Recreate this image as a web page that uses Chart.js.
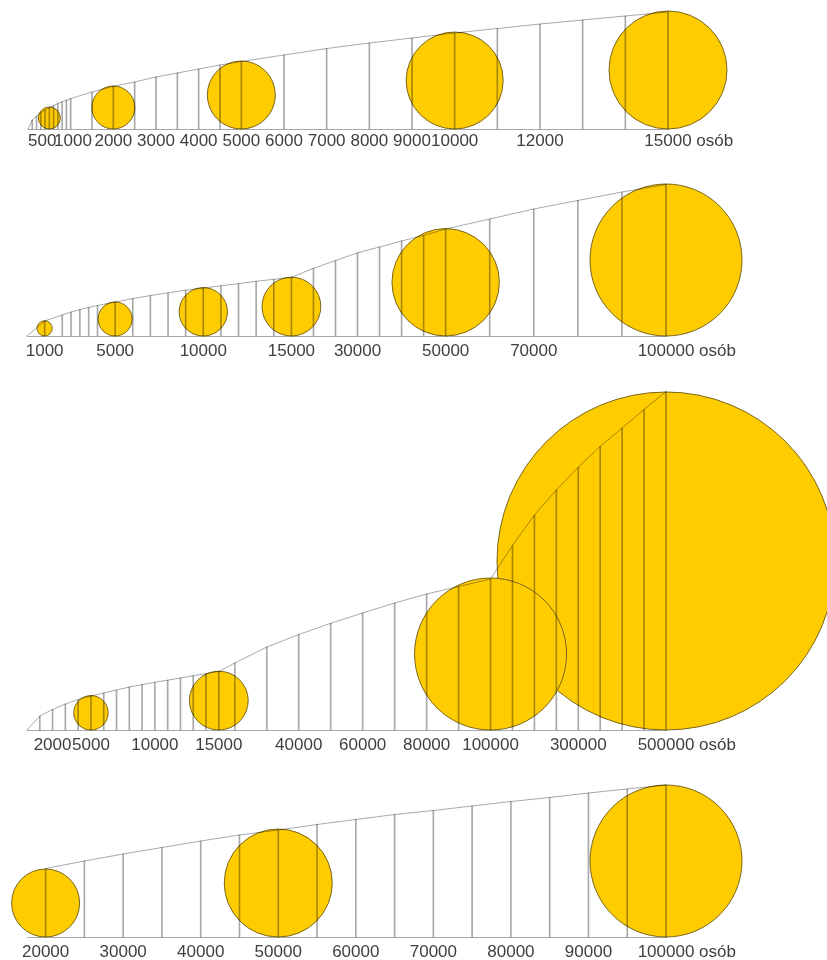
<!DOCTYPE html>
<html><head><meta charset="utf-8">
<script src="https://cdn.jsdelivr.net/npm/chart.js@4.4.1/dist/chart.umd.min.js"></script>
<style>
html,body{margin:0;padding:0;background:#fff;width:827px;height:960px;overflow:hidden;position:relative;}
canvas{position:absolute;left:0;}
</style></head><body>
<canvas id="c1" width="827" height="159" style="top:0px"></canvas>
<canvas id="c2" width="827" height="206" style="top:160px"></canvas>
<canvas id="c3" width="827" height="390" style="top:370px"></canvas>
<canvas id="c4" width="827" height="197" style="top:770px"></canvas>
<script>
// ---------- DATA ----------
// Panel 1
const lines1   = [0,100,200,300,400,500,600,700,800,900,1000,1500,2000,2500,3000,3500,4000,4500,5000,6000,7000,8000,9000,10000,11000,12000,13000,14000,15000];
const heights1 = [0,9,13,16.5,19,21.3,23.5,25.4,27.2,28.8,30.4,37,42.7,47,52,56,60,64,67.5,74,80.5,86,91,96,100.5,105,109,113,117];
const circles1 = [500,2000,5000,10000,15000];
const radii1   = [11,21.5,34,48.5,59];
const ticks1   = [500,1000,2000,3000,4000,5000,6000,7000,8000,9000,10000,12000,15000];

// Panel 2
const lines2   = [0,1000,2000,2500,3000,3500,4000,5000,6000,7000,8000,9000,10000,11000,12000,13000,14000,15000,20000,25000,30000,35000,40000,45000,50000,60000,70000,80000,90000,100000];
const heights2 = [0,15,21,24,26.5,28.5,30.5,34,37.4,40.5,43.2,45.8,48,50.2,52.4,54.7,56.7,58.7,67.7,75.4,83.2,89,95,100.5,107,117,127,135.5,144,151.5];
const circles2 = [1000,5000,10000,15000,50000,100000];
const radii2   = [7.6,17,24.2,29.4,53.7,76];
const ticks2   = [1000,5000,10000,15000,30000,50000,70000,100000];

// Panel 3
const lines3   = [0,1000,2000,3000,4000,5000,6000,7000,8000,9000,10000,11000,12000,13000,14000,15000,20000,30000,40000,50000,60000,70000,80000,90000,100000,150000,200000,250000,300000,350000,400000,450000,500000];
const heights3 = [0,14,20.5,26,30.5,34,37,40,43,45.3,47.7,49.8,52,54.2,56.5,58.5,67,83,95.5,106.7,117,127,136,143.5,151,184.5,215,240,262.7,283.5,302,320.5,338.5];
const circles3 = [5000,15000,100000,500000];
const radii3   = [17.2,29.4,76,169];
const ticks3   = [2000,5000,10000,15000,40000,60000,80000,100000,300000,500000];

// Panel 4
const lines4   = [20000,25000,30000,35000,40000,45000,50000,55000,60000,65000,70000,75000,80000,85000,90000,95000,100000];
const heights4 = [68.5,76,83,89.5,96,102,107,112.5,117.5,122.5,126.5,131,135.5,139.5,144,148,152];
const circles4 = [20000,50000,100000];
const radii4   = [34,54,76];
const ticks4   = [20000,30000,40000,50000,60000,70000,80000,90000,100000];

const unitLabel = 'osób';

// ---------- STYLE ----------
const lineColor = 'rgba(0,0,0,0.34)';
const circleFill = '#FFCC00';
const circleEdge = '#7a651a';
const textColor = '#404040';
const fontFamily = "'Liberation Sans', Arial, Helvetica, sans-serif";

// ---------- custom segmented (broken) scale ----------
class SegmentedScale extends Chart.LinearScale {
  _warp(v) {
    const segs = this.options.segments;
    if (!segs || !segs.length) return v;
    let t = 0;
    for (const s of segs) {
      if (v <= s[0]) break;
      t += (Math.min(v, s[1]) - s[0]) * s[2];
    }
    return t;
  }
  getPixelForValue(value) {
    const a = this._warp(this.min), b = this._warp(this.max);
    return this.getPixelForDecimal((this._warp(value) - a) / (b - a));
  }
}
SegmentedScale.id = 'segmented';
SegmentedScale.defaults = {};
Chart.register(SegmentedScale);

const unitPlugin = {
  id: 'unitText',
  afterDraw(chart) {
    const s = chart.scales.x;
    const items = s.getLabelItems();
    if (!items.length) return;
    const last = items[items.length - 1];
    const ctx = chart.ctx;
    ctx.save();
    ctx.font = last.font.string;
    ctx.fillStyle = textColor;
    ctx.textAlign = 'left';
    ctx.textBaseline = last.options.textBaseline;
    const tr = last.options.translation;
    const w = ctx.measureText(last.label).width;
    ctx.fillText(' ' + unitLabel, tr[0] + w / 2, tr[1] + last.textOffset);
    ctx.restore();
  }
};

function makePanel(id, d, g) {
  const pts = d.lines.map((v, i) => ({x: v, y: d.heights[i]}));
  const bubbles = d.circles.map((v, i) => ({x: v, y: d.radii[i], r: d.radii[i]}))
    .sort((a, b) => b.r - a.r);
  new Chart(document.getElementById(id), {
    type: 'bar',
    data: {
      datasets: [
        {type: 'bubble', data: bubbles, backgroundColor: circleFill, borderColor: circleEdge,
         borderWidth: 1, hoverBorderWidth: 1, clip: false, order: 3},
        {type: 'bar', data: pts, backgroundColor: lineColor, borderWidth: 0,
         barThickness: 1, grouped: false, clip: false, order: 2},
        {type: 'line', data: pts, borderColor: lineColor, borderWidth: 1, pointRadius: 0,
         tension: 0, fill: false, clip: false, order: 1}
      ]
    },
    options: {
      responsive: false,
      animation: false,
      events: [],
      layout: {autoPadding: false, padding: {top: g.padTop, left: g.padLeft, right: g.padRight, bottom: 0}},
      plugins: {legend: {display: false}, tooltip: {enabled: false}},
      scales: {
        x: {
          type: 'segmented',
          segments: g.segments || [],
          min: g.xMin, max: g.xMax,
          offset: false,
          grid: {display: false, drawTicks: false},
          border: {display: true, color: lineColor, width: 1},
          afterFit: s => { s.height = 30; },
          afterBuildTicks: s => { s.ticks = d.ticks.map(v => ({value: v})); },
          ticks: {
            autoSkip: false, maxRotation: 0, minRotation: 0,
            padding: g.labelPad,
            color: textColor,
            font: {family: fontFamily, size: 17},
            callback: v => (g.tickText && g.tickText[v]) || String(v)
          }
        },
        y: {type: 'linear', min: 0, max: g.yMax, display: false}
      }
    },
    plugins: [unitPlugin]
  });
}

makePanel('c1',
  {lines: lines1, heights: heights1, circles: circles1, radii: radii1, ticks: ticks1},
  {padTop: 5, padLeft: 28, padRight: 159, yMax: 124, xMin: 0, xMax: 15000, labelPad: 2,
   tickText: {500: '500   ', 1000: ' 1000'}});

makePanel('c2',
  {lines: lines2, heights: heights2, circles: circles2, radii: radii2, ticks: ticks2},
  {padTop: 10, padLeft: 27, padRight: 161, yMax: 166, xMin: 0, xMax: 100000, labelPad: 5,
   segments: [[0, 15000, 1], [15000, 100000, 0.25]]});

makePanel('c3',
  {lines: lines3, heights: heights3, circles: circles3, radii: radii3, ticks: ticks3},
  {padTop: 20, padLeft: 27, padRight: 161, yMax: 340, xMin: 0, xMax: 500000, labelPad: 5,
   segments: [[0, 15000, 1], [15000, 100000, 0.25], [100000, 500000, 0.0343]]});

makePanel('c4',
  {lines: lines4, heights: heights4, circles: circles4, radii: radii4, ticks: ticks4},
  {padTop: 10, padLeft: 27, padRight: 161, yMax: 157, xMin: 17600, xMax: 100000, labelPad: 5});
</script>
</body></html>
